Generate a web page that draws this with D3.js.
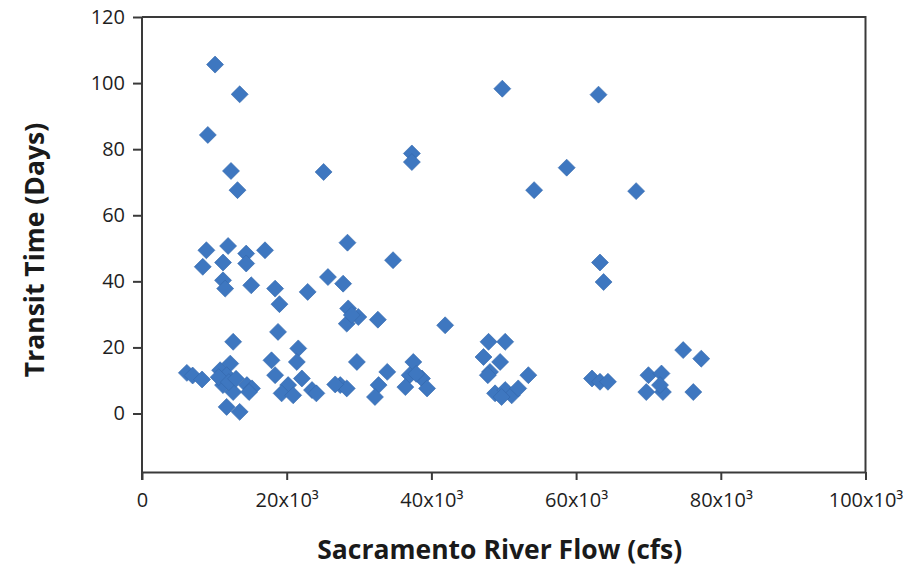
<!DOCTYPE html>
<html>
<head>
<meta charset="utf-8">
<script src="https://cdn.jsdelivr.net/npm/d3@7/dist/d3.min.js"></script>
<style>
  html, body { margin: 0; padding: 0; background: #fff; }
  svg { display: block; }
</style>
</head>
<body>
<svg id="chart" width="909" height="568"></svg>
<script>
// Sacramento River Flow (thousand cfs)
const flow = [
  10.1, 13.5, 9.1, 12.3, 13.2, 25.1, 37.3, 37.3,
  49.8, 63.1, 58.7, 54.2, 68.3, 63.3, 63.8,
  8.9, 11.9, 14.4, 17.0, 8.4, 11.2, 14.4, 11.2, 11.5, 15.1, 18.4, 19.0, 22.9,
  12.6, 18.8, 6.2, 7.0, 8.3, 10.8, 12.2, 11.7, 11.2, 12.6, 14.5, 15.2, 11.7, 13.5,
  10.6, 12.0, 13.0, 14.8,
  17.9, 21.6, 21.4, 18.4, 22.1, 20.2, 19.3, 20.9, 23.5, 24.1,
  28.4, 34.7, 25.7, 27.8, 28.5, 29.9, 28.3, 29.0, 32.6, 41.9,
  29.7, 27.4, 28.3, 26.7, 33.9, 32.7, 32.2,
  37.5, 37.0, 36.4, 38.7, 39.4, 37.9,
  47.9, 50.2, 47.2, 49.5, 48.1, 47.8, 48.8, 50.2, 51.1, 52.0, 49.7, 53.4,
  62.2, 63.3, 64.4,
  70.0, 71.8, 69.7, 72.0, 71.6, 74.8, 77.3, 76.2
];
// Transit Time (Days)
const transit = [
  105.6, 96.6, 84.3, 73.4, 67.6, 73.1, 78.7, 76.1,
  98.3, 96.5, 74.4, 67.6, 67.3, 45.7, 39.8,
  49.4, 50.7, 48.4, 49.4, 44.4, 45.7, 45.4, 40.3, 37.8, 38.8, 37.8, 33.1, 36.8,
  21.7, 24.7, 12.3, 11.5, 10.3, 13.1, 15.1, 11.6, 8.6, 6.5, 8.6, 7.6, 2.0, 0.5,
  11.0, 9.5, 10.5, 6.5,
  16.1, 19.7, 15.6, 11.6, 10.6, 8.6, 6.1, 5.5, 7.1, 6.1,
  51.7, 46.4, 41.3, 39.3, 31.8, 29.2, 27.2, 29.8, 28.4, 26.7,
  15.6, 8.6, 7.6, 8.8, 12.6, 8.6, 5.0,
  15.6, 11.6, 8.0, 10.6, 7.6, 12.0,
  21.7, 21.7, 17.1, 15.6, 12.6, 11.6, 6.1, 7.1, 5.5, 7.6, 5.0, 11.6,
  10.6, 9.6, 9.6,
  11.6, 12.1, 6.5, 6.5, 8.6, 19.2, 16.6, 6.5
];
const xTicks = [0, 20000, 40000, 60000, 80000, 100000];
const xTickLabels = ["0", "20x10³", "40x10³", "60x10³", "80x10³", "100x10³"];
const yTicks = [0, 20, 40, 60, 80, 100, 120];

const svg = d3.select("#chart");
const mLeft = 142, mRight = 865.5, mTop = 17, mBottom = 472;

const x = d3.scaleLinear().domain([0, 100000]).range([mLeft, mRight]);
const y = d3.scaleLinear().domain([-17.7, 120]).range([mBottom, mTop]);

const axisColor = "#3a3a3a";
const font = "'Open Sans', 'Noto Sans', sans-serif";

// frame (top and right)
svg.append("path")
  .attr("d", `M${mLeft},${mTop}H${mRight}V${mBottom}`)
  .attr("fill", "none").attr("stroke", axisColor).attr("stroke-width", 2);

// y axis
const yAxis = svg.append("g")
  .attr("transform", `translate(${mLeft},0)`)
  .call(d3.axisLeft(y).tickValues(yTicks).tickSize(9).tickPadding(8).tickSizeOuter(0));
yAxis.select(".domain").attr("stroke", axisColor).attr("stroke-width", 2)
  .attr("d", `M0,${mTop}V${mBottom + 8}`);
yAxis.selectAll(".tick line").attr("stroke", axisColor).attr("stroke-width", 2);
yAxis.selectAll(".tick text").attr("fill", "#1e1e1e").style("font-family", font).style("font-size", "20px");

// x axis
const xAxis = svg.append("g")
  .attr("transform", `translate(0,${mBottom})`)
  .call(d3.axisBottom(x).tickValues(xTicks).tickFormat((d, i) => xTickLabels[i])
    .tickSize(8).tickPadding(13).tickSizeOuter(0));
xAxis.select(".domain").attr("stroke", axisColor).attr("stroke-width", 2);
xAxis.selectAll(".tick line").attr("stroke", axisColor).attr("stroke-width", 2);
xAxis.selectAll(".tick text").attr("fill", "#1e1e1e").style("font-family", font).style("font-size", "20px");

// points
const pts = flow.map((f, i) => ({ f: f * 1000, t: transit[i] }));
const diamond = d3.symbol().type(d3.symbolSquare).size(144);
svg.append("g").selectAll("path").data(pts).join("path")
  .attr("d", diamond)
  .attr("transform", d => `translate(${x(d.f)},${y(d.t)}) rotate(45)`)
  .attr("fill", "#3e77c0")
  .attr("stroke", "#3569ad")
  .attr("stroke-width", 0.6);

// axis titles
svg.append("text")
  .attr("x", (mLeft + mRight) / 2 - 4).attr("y", 559)
  .attr("text-anchor", "middle")
  .style("font-family", font).style("font-weight", "bold").style("font-size", "26.5px")
  .attr("fill", "#1a1a1a")
  .text("Sacramento River Flow (cfs)");

svg.append("text")
  .attr("transform", `translate(44,250) rotate(-90)`)
  .attr("text-anchor", "middle")
  .style("font-family", font).style("font-weight", "bold").style("font-size", "26.5px")
  .attr("fill", "#1a1a1a")
  .text("Transit Time (Days)");
</script>
</body>
</html>
